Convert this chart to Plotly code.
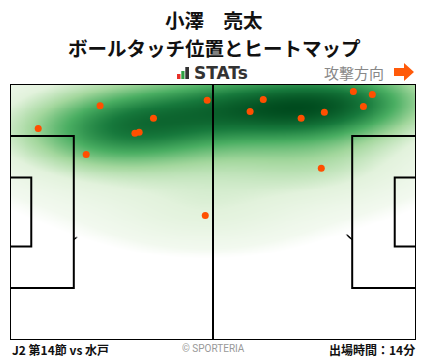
import numpy as np
import plotly.graph_objects as go

# ---- data (pitch metres, x: 0-105 attacking right, y: 0-68 bottom->top)
touch_x = [23.3, 51.0, 7.3, 37.1, 32.3, 33.4, 19.7, 50.5, 65.5, 62.1, 88.8, 93.7, 91.4, 75.3, 81.3, 80.5]
touch_y = [62.2, 63.7, 56.2, 58.9, 54.9, 55.2, 49.3, 33.1, 63.9, 60.7, 66.0, 65.2, 62.0, 58.9, 60.5, 45.6]

title_name = "小澤　亮太"
title_sub = "ボールタッチ位置とヒートマップ"
footer_left = "J2 第14節 vs 水戸"
footer_right = "出場時間：14分"
credit = "© SPORTERIA"
direction_label = "攻撃方向"

L, W = 105.0, 68.0

# ---- heat density (kernel estimate from touches)
gx = np.linspace(0, L, 211)
gy = np.linspace(0, W, 137)
X, Y = np.meshgrid(gx, gy)
Z = np.zeros_like(X)
for px_, py_ in zip(touch_x, touch_y):
    Z += np.exp(-(((X - px_) / 16.0) ** 2 + ((Y - py_) / 6.0) ** 2) / 2)
    Z += 0.4 * np.exp(-(((X - px_) / 28.0) ** 2 + ((Y - py_) / 16.0) ** 2) / 2)
Z = Z / Z.max()

cscale = [
    [0.0, "rgba(255,255,255,0)"],
    [0.085, "rgba(255,255,255,0)"],
    [0.09, "rgba(255,255,255,1)"],
    [0.13, "#f2f9ef"],
    [0.3, "#e2f2dc"],
    [0.48, "#a3d79d"],
    [0.66, "#4aae62"],
    [0.83, "#17793c"],
    [1.0, "#004b1e"],
]

fig = go.Figure()
fig.add_trace(go.Heatmap(x=gx, y=gy, z=Z, colorscale=cscale, zmin=0, zmax=1,
                         zsmooth="best", showscale=False, hoverinfo="skip"))
fig.add_trace(go.Scatter(x=touch_x, y=touch_y, mode="markers",
                         marker=dict(color="#ff4f00", size=7, line=dict(width=0)),
                         hoverinfo="skip"))

shapes = []
line = dict(color="black", width=2)
def arc_path(cx, cy, r, a0, a1, n=40):
    a = np.linspace(np.radians(a0), np.radians(a1), n)
    pts = [(cx + r * np.cos(t), cy + r * np.sin(t)) for t in a]
    return "M " + " L ".join(f"{x:.3f},{y:.3f}" for x, y in pts)
shapes.append(dict(type="path", path=arc_path(11, 34, 9.15, -53, 53), line=dict(color="black", width=1.5), layer="below"))
shapes.append(dict(type="path", path=arc_path(94, 34, 9.15, 127, 233), line=dict(color="black", width=1.5), layer="below"))
for sx in (11, 94):
    shapes.append(dict(type="circle", x0=sx - 0.2, x1=sx + 0.2, y0=33.8, y1=34.2,
                       fillcolor="black", line=dict(width=0), layer="below"))
shapes.append(dict(type="rect", x0=0, x1=L, y0=0, y1=W, line=line))
shapes.append(dict(type="line", x0=L / 2, x1=L / 2, y0=0, y1=W, line=line))
for x0, x1 in ((0, 16.5), (L - 16.5, L)):
    shapes.append(dict(type="rect", x0=x0, x1=x1, y0=34 - 20.16, y1=34 + 20.16, line=line))
for x0, x1 in ((0, 5.5), (L - 5.5, L)):
    shapes.append(dict(type="rect", x0=x0, x1=x1, y0=34 - 9.16, y1=34 + 9.16, line=line))

PL, PT, PW, PH = 10, 84, 406, 256
def fx(px):
    return (px - PL) / PW
def fy(py):
    return (PT + PH - py) / PH
for (x0, x1, y0, col) in ((177, 180.5, 74, "#e8312a"), (181.3, 184.5, 71, "#2ea043"), (185.3, 189, 67, "#333333")):
    shapes.append(dict(type="rect", xref="paper", yref="paper", x0=fx(x0), x1=fx(x1),
                       y0=fy(79), y1=fy(y0), fillcolor=col, line=dict(width=0)))
arrow_pts = [(394, 68), (404, 68), (404, 63), (414, 72), (404, 81), (404, 76), (394, 76)]
path = "M " + " L ".join(f"{fx(a):.5f},{fy(b):.5f}" for a, b in arrow_pts) + " Z"
shapes.append(dict(type="path", xref="paper", yref="paper", path=path,
                   fillcolor="#ff5a0a", line=dict(width=0)))

jp = "Noto Sans CJK JP"
ann = [
    dict(text=f"<b>{title_name}</b>", x=fx(214), y=fy(19.5), font=dict(size=19.5, color="#111", family=jp)),
    dict(text=f"<b>{title_sub}</b>", x=fx(214), y=fy(47.5), font=dict(size=19.5, color="#111", family=jp)),
    dict(text="<b>STATs</b>", x=fx(192), y=fy(73), xanchor="left", font=dict(size=17, color="#333", family="DejaVu Sans")),
    dict(text=direction_label, x=fx(386), y=fy(72), xanchor="right", font=dict(size=15, color="#888", family=jp)),
    dict(text=f"<b>{footer_left}</b>", x=fx(10), y=fy(349), xanchor="left", font=dict(size=12, color="#111", family=jp)),
    dict(text=credit, x=fx(213), y=fy(348), font=dict(size=10, color="#999", family="Roboto")),
    dict(text=f"<b>{footer_right}</b>", x=fx(417), y=fy(349), xanchor="right", font=dict(size=12, color="#111", family=jp)),
]
for a in ann:
    a.update(xref="paper", yref="paper", showarrow=False)
    a.setdefault("xanchor", "center")
    a["yanchor"] = "middle"

fig.update_layout(
    width=428, height=359,
    margin=dict(l=PL, r=428 - PL - PW, t=PT, b=359 - PT - PH),
    paper_bgcolor="white", plot_bgcolor="white",
    xaxis=dict(range=[0, L], visible=False, fixedrange=True),
    yaxis=dict(range=[0, W], visible=False, fixedrange=True),
    shapes=shapes, annotations=ann, showlegend=False,
)
fig.write_html("out.html", config={"displayModeBar": False},
               post_script="document.body.style.margin='0';document.body.style.overflow='hidden';")
